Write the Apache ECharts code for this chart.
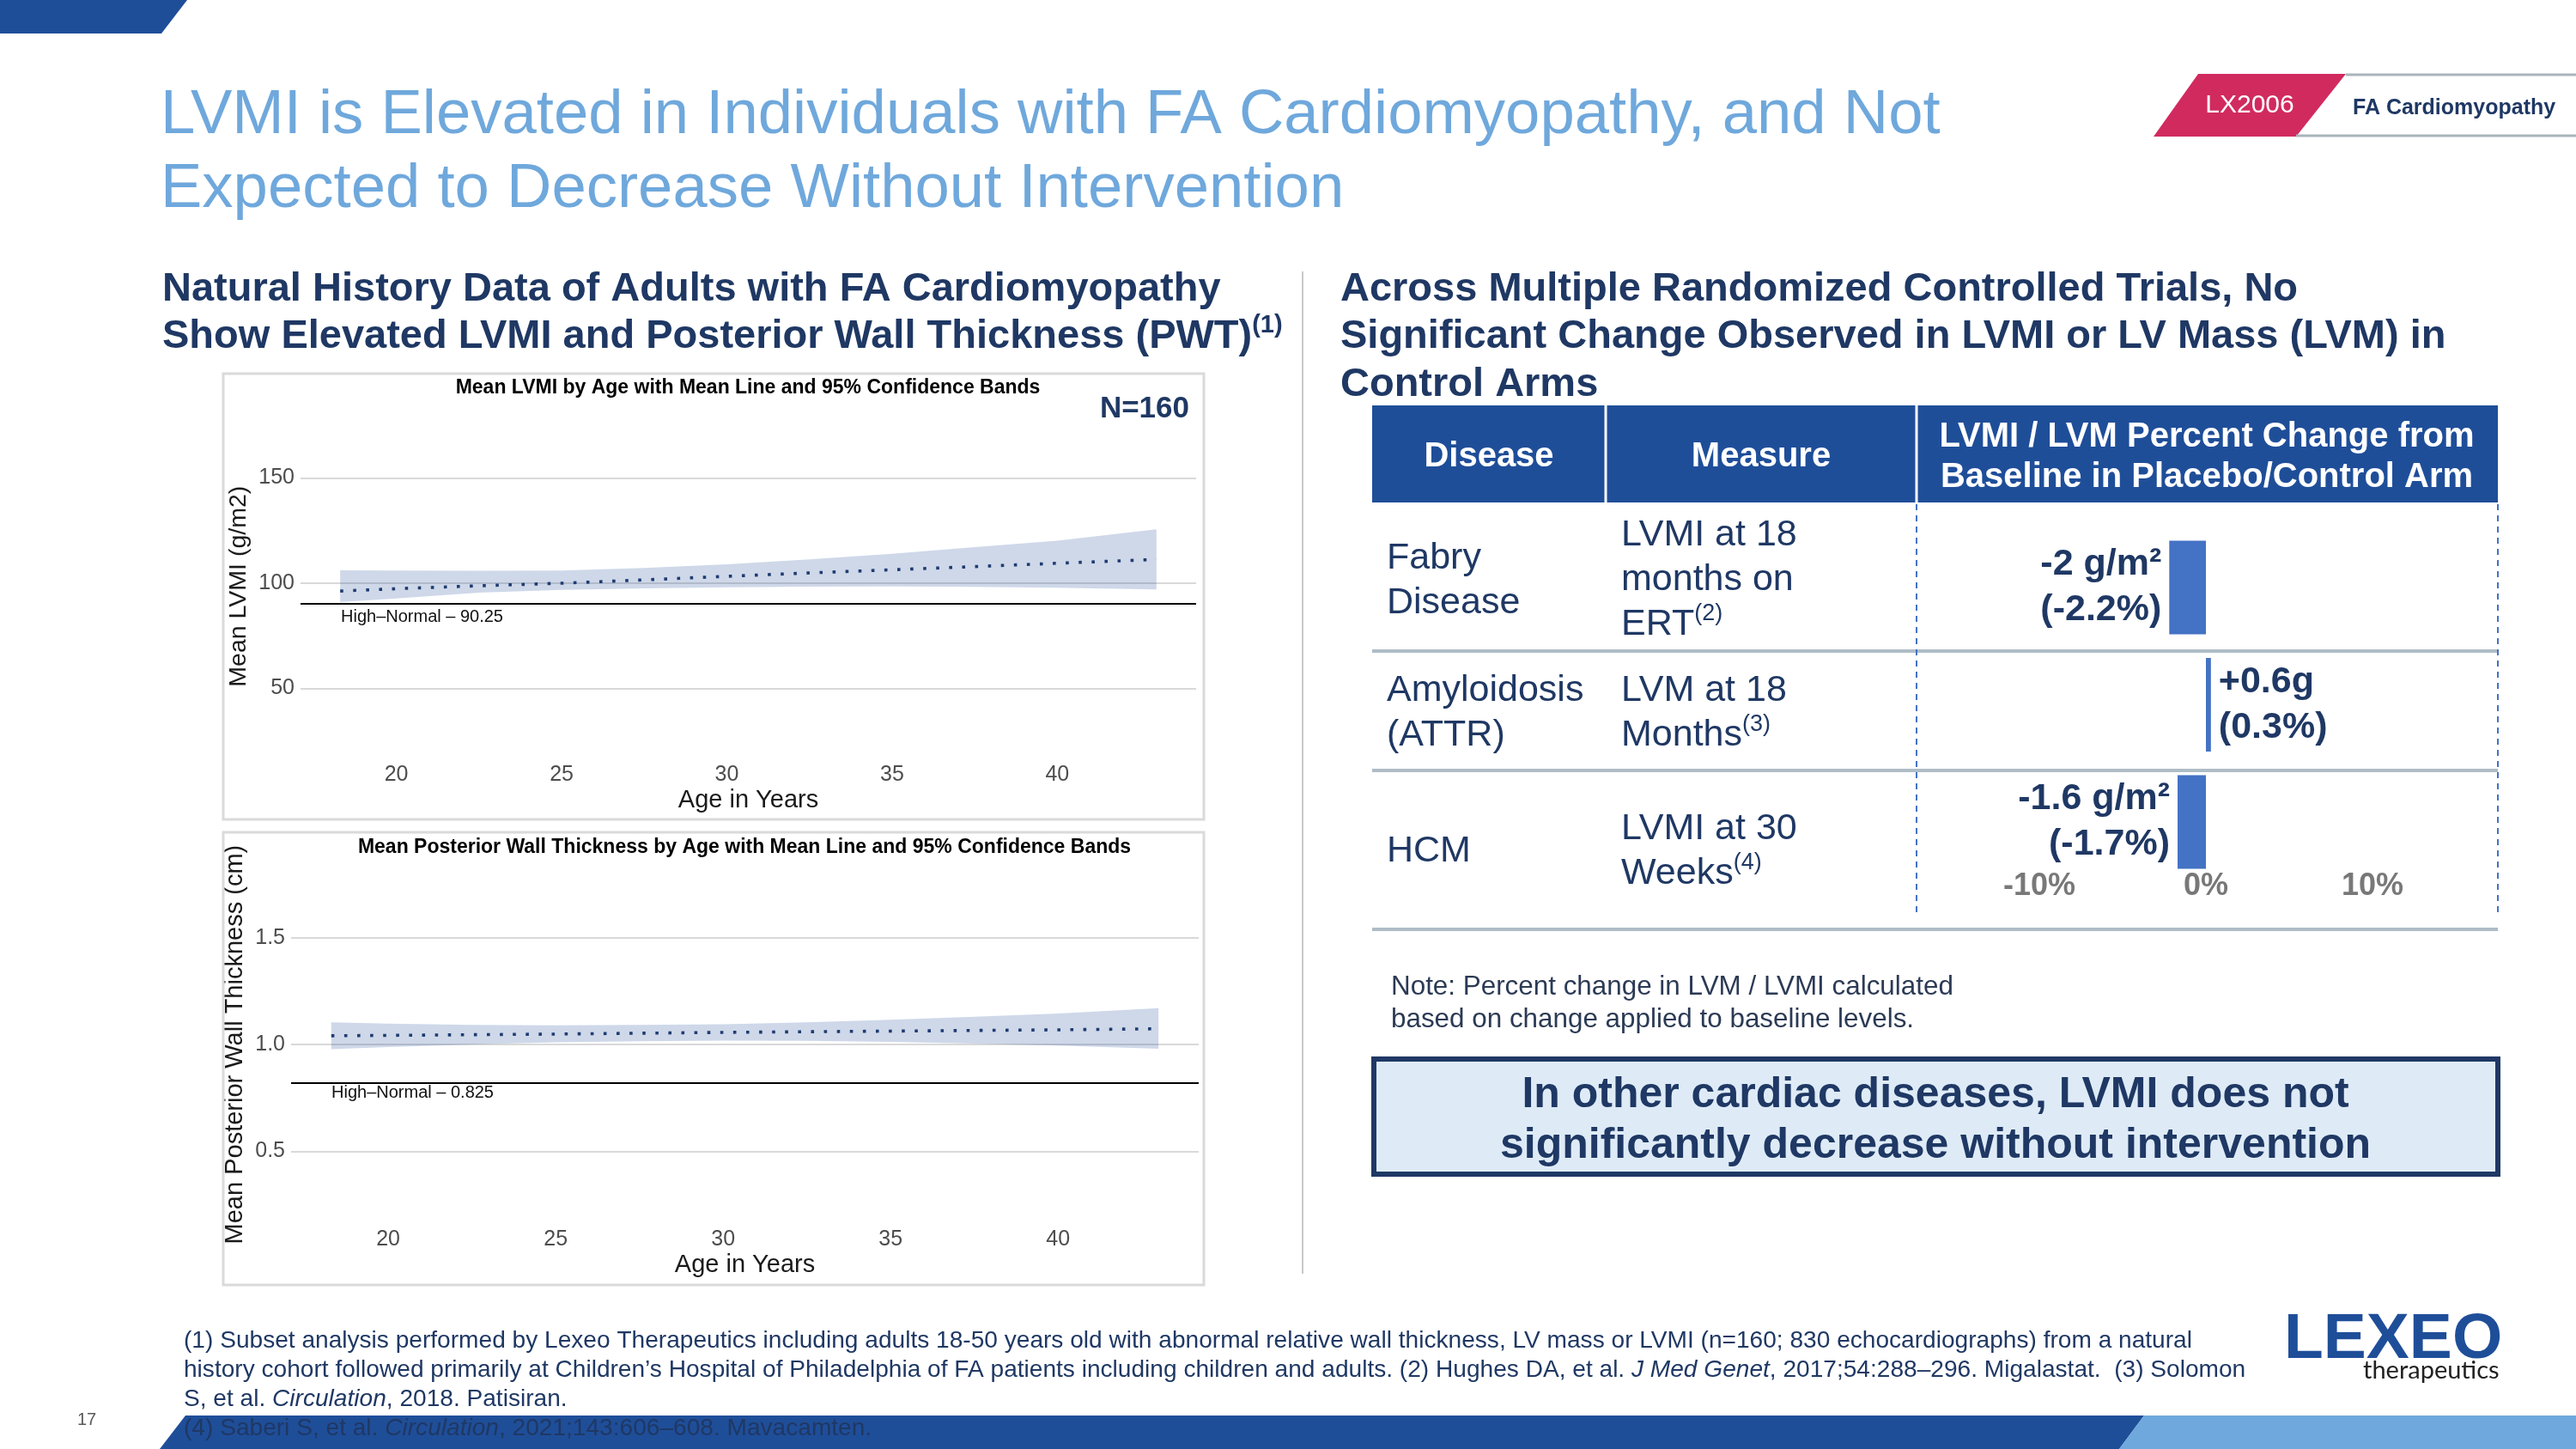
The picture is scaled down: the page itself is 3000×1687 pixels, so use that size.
<!DOCTYPE html>
<html><head><meta charset="utf-8">
<script src="https://cdn.jsdelivr.net/npm/echarts@6/dist/echarts.min.js"></script>
<style>html,body{margin:0;padding:0;background:#fff}#c{width:3000px;height:1687px}</style>
</head><body><div id="c"></div>
<script>
// ---------------- data ----------------
const ages = [18.3, 20, 22.5, 25, 27.5, 30, 32.5, 35, 37.5, 40, 43];
const lvmiMean  = [96.3, 97.4, 98.8, 100.0, 101.6, 103.3, 104.9, 106.4, 107.9, 109.5, 111.3];
const lvmiLower = [91.0, 92.8, 95.5, 96.8, 97.6, 98.1, 98.4, 98.5, 98.3, 97.9, 97.1];
const lvmiUpper = [106.1, 106.0, 105.9, 106.0, 107.3, 109.0, 111.3, 114.0, 117.1, 120.2, 125.6];
const pwtMean  = [1.041, 1.043, 1.046, 1.049, 1.053, 1.057, 1.060, 1.063, 1.066, 1.069, 1.074];
const pwtLower = [0.978, 0.988, 1.000, 1.010, 1.016, 1.019, 1.018, 1.012, 1.004, 0.995, 0.980];
const pwtUpper = [1.104, 1.098, 1.092, 1.090, 1.092, 1.095, 1.104, 1.116, 1.130, 1.145, 1.170];
const ageTicks = [20, 25, 30, 35, 40];
const lvmiTicks = [50, 100, 150];
const pwtTicks = [0.5, 1.0, 1.5];
const lvmiHighNormal = 90.25;
const pwtHighNormal = 0.825;
const trialDiseases = ['Fabry Disease', 'Amyloidosis (ATTR)', 'HCM'];
const trialPctChange = [-2.2, 0.3, -1.7];
const trialAbsChange = ['-2 g/m²', '+0.6g', '-1.6 g/m²'];
const pctTickLabels = [-10, 0, 10];

// ---------------- styles ----------------
const FF = 'Liberation Sans, Arial, Helvetica, sans-serif';
const NAVY = '#1f3864';
const BLUE = '#1f4e99';
const LIGHTBLUE = '#6fa8dc';
const BAND = 'rgba(31,78,153,0.22)';

function pairs(xs, ys) { return xs.map((x, i) => [x, ys[i]]); }

function T(x, y, text, s) {
  const st = Object.assign({text: text, fontFamily: FF, fontSize: 43, fill: NAVY,
    align: 'left', textAlign: 'left', verticalAlign: 'middle', textVerticalAlign: 'middle'}, s || {});
  if (s && s.align) st.textAlign = s.align;
  if (s && s.verticalAlign) st.textVerticalAlign = s.verticalAlign;
  return {type: 'text', x: x, y: y, z: (s && s.zz) || 20, silent: true, style: st};
}
function L(x1, y1, x2, y2, stroke, w, dash, z) {
  return {type: 'line', z: z || 15, silent: true, shape: {x1, y1, x2, y2},
    style: {stroke: stroke, lineWidth: w, lineDash: dash || null}};
}
function R(x, y, w, h, fill, stroke, lw, z) {
  return {type: 'rect', z: z || 5, silent: true, shape: {x, y, width: w, height: h},
    style: {fill: fill, stroke: stroke || null, lineWidth: lw || 0}};
}
function P(points, fill, z) {
  return {type: 'polygon', z: z || 5, silent: true, shape: {points: points}, style: {fill: fill}};
}
const sup = (fs) => ({fontSize: fs, verticalAlign: 'top', lineHeight: Math.round(fs * 1.25), fill: NAVY, fontFamily: FF});
const supB = (fs) => Object.assign(sup(fs), {fontWeight: 'bold'});
const ital = (fs) => ({fontStyle: 'italic', fontSize: fs, fontFamily: FF, fill: NAVY});

function bandSeries(xi, lower, upper) {
  return {
    type: 'custom', xAxisIndex: xi, yAxisIndex: xi, silent: true, z: 1,
    data: ages.map((a, i) => [a, lower[i], upper[i]]),
    encode: {x: 0, y: [1, 2]},
    renderItem: function (params, api) {
      if (params.dataIndex !== 0) return null;
      const pts = [];
      for (let i = 0; i < ages.length; i++) pts.push(api.coord([ages[i], upper[i]]));
      for (let i = ages.length - 1; i >= 0; i--) pts.push(api.coord([ages[i], lower[i]]));
      return {type: 'polygon', shape: {points: pts}, style: {fill: BAND}};
    }
  };
}
function meanSeries(xi, mean, hn, hnLabel, dist) {
  return {
    type: 'line', xAxisIndex: xi, yAxisIndex: xi, z: 3, symbol: 'none', silent: true,
    data: pairs(ages, mean),
    lineStyle: {color: '#1f3b70', width: 3.6, type: [3.6, 11.5]},
    markLine: {
      silent: true, symbol: ['none', 'none'], animation: false,
      data: [{yAxis: hn}],
      lineStyle: {color: '#000', width: 2, type: 'solid'},
      label: {show: true, position: 'insideStartBottom', formatter: hnLabel,
        color: '#111', fontSize: 20, fontFamily: FF, distance: dist}
    }
  };
}

const axisLabelStyle = {color: '#4d4d4d', fontSize: 25, fontFamily: FF};
const nameStyle = {color: '#1a1a1a', fontSize: 29, fontFamily: FF};

const option = {
  animation: false,
  backgroundColor: '#ffffff',
  title: [
    {text: 'Mean LVMI by Age with Mean Line and 95% Confidence Bands', left: 871, top: 440, textAlign: 'center', padding: 0,
      textStyle: {fontSize: 23, fontWeight: 'bold', color: '#000', fontFamily: FF}},
    {text: 'Mean Posterior Wall Thickness by Age with Mean Line and 95% Confidence Bands', left: 867, top: 975, textAlign: 'center', padding: 0,
      textStyle: {fontSize: 23, fontWeight: 'bold', color: '#000', fontFamily: FF}}
  ],
  grid: [
    {left: 350, top: 502.6, width: 1043, height: 360.2, containLabel: false},
    {left: 339, top: 1029.8, width: 1057, height: 372.6, containLabel: false},
    {left: 2181, top: 615.75, width: 776, height: 409.5, containLabel: false}
  ],
  xAxis: [
    {gridIndex: 0, type: 'value', min: 17.1, max: 44.2,
      axisLine: {show: false}, axisTick: {show: false, customValues: ageTicks}, splitLine: {show: false},
      axisLabel: Object.assign({customValues: ageTicks, margin: 27}, axisLabelStyle),
      name: 'Age in Years', nameLocation: 'middle', nameGap: 55, nameTextStyle: nameStyle},
    {gridIndex: 1, type: 'value', min: 17.1, max: 44.2,
      axisLine: {show: false}, axisTick: {show: false, customValues: ageTicks}, splitLine: {show: false},
      axisLabel: Object.assign({customValues: ageTicks, margin: 28}, axisLabelStyle),
      name: 'Age in Years', nameLocation: 'middle', nameGap: 56, nameTextStyle: nameStyle},
    {gridIndex: 2, type: 'value', min: -20, max: 20, interval: 10,
      axisLine: {show: false}, axisTick: {show: false}, splitLine: {show: false},
      axisLabel: {margin: -11, color: '#787878', fontSize: 36, fontWeight: 'bold', fontFamily: FF,
        formatter: v => pctTickLabels.indexOf(v) >= 0 ? v + '%' : ''}}
  ],
  yAxis: [
    {gridIndex: 0, type: 'value', min: 25, max: 172,
      axisLine: {show: false}, axisTick: {show: false, customValues: lvmiTicks},
      splitLine: {show: true, lineStyle: {color: '#d9d9d9', width: 2}},
      axisLabel: Object.assign({customValues: lvmiTicks, margin: 7}, axisLabelStyle),
      name: 'Mean LVMI (g/m2)', nameLocation: 'middle', nameRotate: 90, nameGap: 57,
      nameTextStyle: {color: '#1a1a1a', fontSize: 28.5, fontFamily: FF}},
    {gridIndex: 1, type: 'value', min: 0.25, max: 1.75,
      axisLine: {show: false}, axisTick: {show: false, customValues: pwtTicks},
      splitLine: {show: true, lineStyle: {color: '#d9d9d9', width: 2}},
      axisLabel: Object.assign({customValues: pwtTicks, margin: 7, formatter: v => v.toFixed(1)}, axisLabelStyle),
      name: 'Mean Posterior Wall Thickness (cm)', nameLocation: 'middle', nameRotate: 90, nameGap: 51,
      nameTextStyle: {color: '#1a1a1a', fontSize: 29, fontFamily: FF}},
    {gridIndex: 2, type: 'category', data: trialDiseases, inverse: true, show: false}
  ],
  series: [
    bandSeries(0, lvmiLower, lvmiUpper),
    meanSeries(0, lvmiMean, lvmiHighNormal, 'High–Normal – ' + lvmiHighNormal, [47, 6]),
    bandSeries(1, pwtLower, pwtUpper),
    meanSeries(1, pwtMean, pwtHighNormal, 'High–Normal – ' + pwtHighNormal, [47, 2]),
    {
      type: 'bar', xAxisIndex: 2, yAxisIndex: 2, barWidth: 109, silent: true,
      itemStyle: {color: '#4472c4'},
      data: trialPctChange.map(v => ({value: v, label: {position: v < 0 ? 'left' : 'right'}})),
      label: {show: true, distance: 9, fontSize: 43, fontWeight: 'bold', color: NAVY, lineHeight: 53, fontFamily: FF,
        formatter: p => trialAbsChange[p.dataIndex] + '\n(' + p.value + '%)'}
    }
  ],
  graphic: {elements: [
    // top-left bar
    P([[0, 0], [218, 0], [188, 39], [0, 39]], BLUE),
    // title
    T(187, 92, 'LVMI is Elevated in Individuals with FA Cardiomyopathy, and Not\nExpected to Decrease Without Intervention',
      {fontSize: 72.5, fill: LIGHTBLUE, lineHeight: 86, verticalAlign: 'top'}),
    // tag
    P([[2560, 86], [2732, 86], [2674, 159], [2508, 159]], '#d12a5f'),
    L(2732, 87, 3000, 87, '#a9b4bb', 3),
    L(2674, 158, 3000, 158, '#a9b4bb', 3),
    T(2620, 123, 'LX2006', {fontSize: 30, fill: '#ffffff', align: 'center'}),
    T(2740, 126, 'FA Cardiomyopathy', {fontSize: 25, fontWeight: 'bold', fill: NAVY}),
    // headings
    T(189, 309, 'Natural History Data of Adults with FA Cardiomyopathy\nShow Elevated LVMI and Posterior Wall Thickness (PWT){s|(1)}',
      {fontSize: 47, fontWeight: 'bold', lineHeight: 55.5, verticalAlign: 'top', rich: {s: supB(29)}}),
    T(1561, 309, 'Across Multiple Randomized Controlled Trials, No\nSignificant Change Observed in LVMI or LV Mass (LVM) in\nControl Arms',
      {fontSize: 47, fontWeight: 'bold', lineHeight: 55.5, verticalAlign: 'top'}),
    // divider
    L(1517, 316, 1517, 1483, '#c9c9c9', 2),
    // chart boxes
    R(260, 435, 1142, 519, 'none', '#dadada', 3),
    R(260, 969, 1142, 527, 'none', '#dadada', 3),
    T(1385, 476, 'N=160', {fontSize: 35, fontWeight: 'bold', fill: NAVY, align: 'right'}),
    // table header
    R(1598, 472, 1311, 113, BLUE),
    L(1870, 472, 1870, 585, '#ffffff', 3, null, 16),
    L(2232, 472, 2232, 585, '#ffffff', 3, null, 16),
    T(1734, 532, 'Disease', {fontSize: 40, fontWeight: 'bold', fill: '#fff', align: 'center'}),
    T(2051, 532, 'Measure', {fontSize: 40, fontWeight: 'bold', fill: '#fff', align: 'center'}),
    T(2570, 532, 'LVMI / LVM Percent Change from\nBaseline in Placebo/Control Arm',
      {fontSize: 40, fontWeight: 'bold', fill: '#fff', align: 'center', lineHeight: 47}),
    // table body
    T(1615, 676, 'Fabry\nDisease', {lineHeight: 52}),
    T(1888, 675, 'LVMI at 18\nmonths on\nERT{s|(2)}', {lineHeight: 52, rich: {s: sup(27)}}),
    T(1615, 830, 'Amyloidosis\n(ATTR)', {lineHeight: 52}),
    T(1888, 830, 'LVM at 18\nMonths{s|(3)}', {lineHeight: 52, rich: {s: sup(27)}}),
    T(1615, 991, 'HCM', {lineHeight: 52}),
    T(1888, 991, 'LVMI at 30\nWeeks{s|(4)}', {lineHeight: 52, rich: {s: sup(27)}}),
    L(1598, 758, 2909, 758, '#aebcc6', 4),
    L(1598, 897, 2909, 897, '#aebcc6', 4),
    L(1598, 1082, 2909, 1082, '#aebcc6', 4),
    L(2232, 587, 2232, 1063, '#4472c4', 2, [7, 6]),
    L(2909, 587, 2909, 1063, '#4472c4', 2, [7, 6]),
    // note
    T(1620, 1168, 'Note: Percent change in LVM / LVMI calculated\nbased on change applied to baseline levels.',
      {fontSize: 31.4, fill: '#2b3a55', lineHeight: 38}),
    // conclusion box
    R(1600, 1233, 1309, 134, '#deebf7', NAVY, 6, 6),
    T(2254, 1304.5, 'In other cardiac diseases, LVMI does not\nsignificantly decrease without intervention',
      {fontSize: 50, fontWeight: 'bold', fill: NAVY, align: 'center', lineHeight: 59}),
    // footnotes
    T(214, 1561, '(1) Subset analysis performed by Lexeo Therapeutics including adults 18-50 years old with abnormal relative wall thickness, LV mass or LVMI (n=160; 830 echocardiographs) from a natural',
      {fontSize: 28.1}),
    T(214, 1595, 'history cohort followed primarily at Children’s Hospital of Philadelphia of FA patients including children and adults. (2) Hughes DA, et al. {i|J Med Genet}, 2017;54:288–296. Migalastat.  (3) Solomon',
      {fontSize: 28.1, rich: {i: ital(28.1)}}),
    T(214, 1629, 'S, et al. {i|Circulation}, 2018. Patisiran.',
      {fontSize: 28.1, rich: {i: ital(28.1)}}),
    // bottom bar
    P([[216, 1648], [2497, 1648], [2468, 1687], [186, 1687]], BLUE, 8),
    P([[2497, 1648], [3000, 1648], [3000, 1687], [2468, 1687]], LIGHTBLUE, 8),
    T(214, 1663, '(4) Saberi S, et al. {i|Circulation}, 2021;143:606–608. Mavacamten.',
      {fontSize: 28.1, zz: 30, rich: {i: ital(28.1)}}),
    T(101, 1653, '17', {fontSize: 20, fill: '#595959', align: 'center'}),
    // logo
    T(2660, 1560, 'LEXEO', {fontSize: 75, fontWeight: 'bold', fill: BLUE}),
    T(2752, 1596, 'therapeutics', {fontSize: 29, fill: '#222222', fontFamily: 'Lato, Liberation Sans, sans-serif'})
  ]}
};

const chart = echarts.init(document.getElementById('c'), null, {renderer: 'canvas', width: 3000, height: 1687});
chart.setOption(option);
</script>
</body></html>
